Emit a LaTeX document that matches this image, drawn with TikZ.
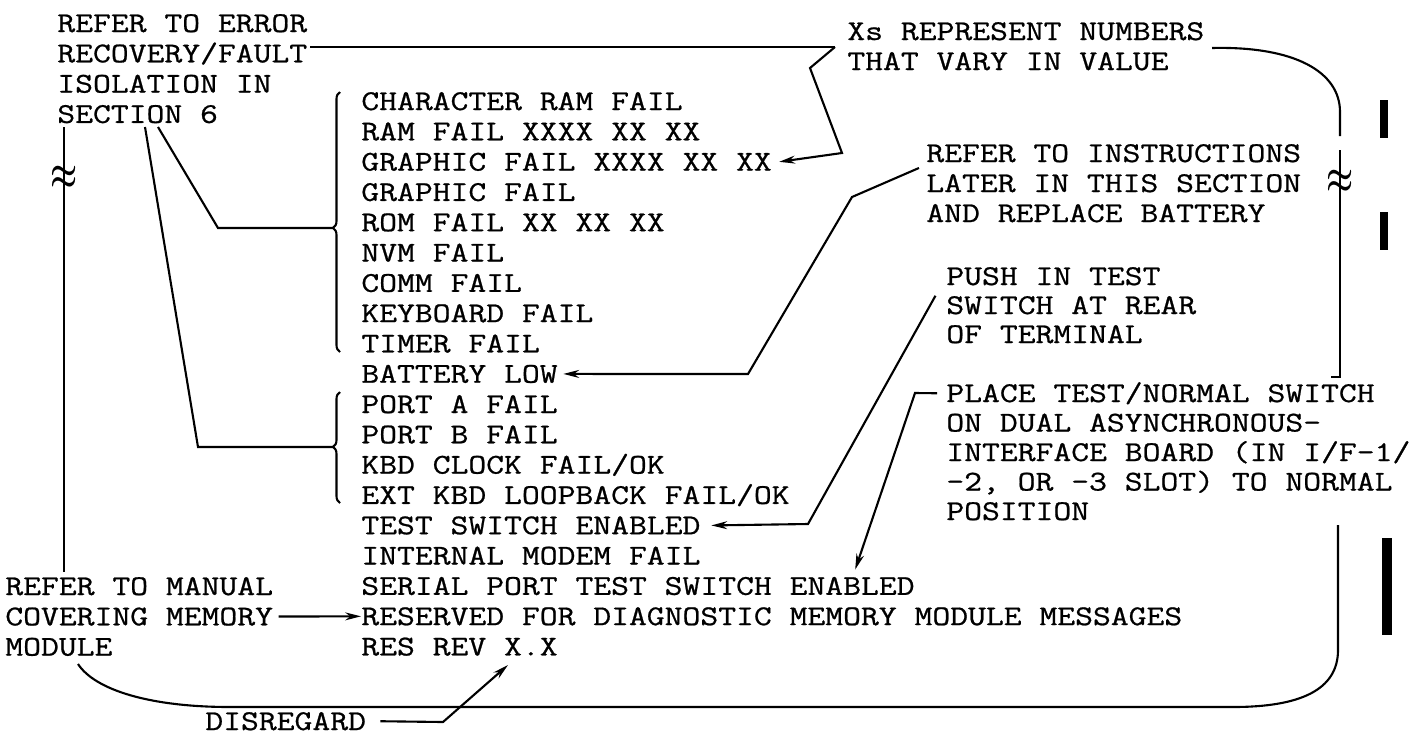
\documentclass[tikz,border=0pt]{standalone}
\usepackage{fontspec}
\setmonofont{Latin Modern Mono}[FakeStretch=1.21, FakeBold=0.8]
\usetikzlibrary{arrows.meta, decorations.pathreplacing}

\tikzset{
  txt/.style={anchor=base west, inner sep=0pt, font=\ttfamily\fontsize{16.3pt}{16.3pt}\selectfont},
  frame/.style={line width=1.2pt},
  arr/.style={line width=1.2pt, -{Stealth[length=9pt,width=4.5pt]}},
  brc/.style={line width=1.2pt, decorate, decoration={brace, amplitude=1.4mm, #1}},
  brk/.style={inner sep=0pt, font=\fontsize{18pt}{18pt}\selectfont\boldmath, yscale=1.4},
}

\begin{document}
\begin{tikzpicture}[x=0.02cm, y=-0.02cm]
\useasboundingbox (0,0) rectangle (1419,738);

% screen messages
\foreach \msg [count=\i] in {CHARACTER RAM FAIL, RAM FAIL XXXX XX XX, GRAPHIC FAIL XXXX XX XX,
    GRAPHIC FAIL, ROM FAIL XX XX XX, NVM FAIL, COMM FAIL, KEYBOARD FAIL, TIMER FAIL,
    BATTERY LOW, PORT A FAIL, PORT B FAIL, KBD CLOCK FAIL/OK, EXT KBD LOOPBACK FAIL/OK,
    TEST SWITCH ENABLED, INTERNAL MODEM FAIL, SERIAL PORT TEST SWITCH ENABLED,
    RESERVED FOR DIAGNOSTIC MEMORY MODULE MESSAGES, RES REV X.X}
  \node[txt] (m\i) at (361, {110+30.3*(\i-1)}) {\msg};

% notes
\foreach \ln [count=\i] in {REFER TO ERROR, RECOVERY/FAULT, ISOLATION IN, SECTION 6}
  \node[txt] (err\i) at (57, {32+30.3*(\i-1)}) {\ln};
\foreach \ln [count=\i] in {Xs REPRESENT NUMBERS, THAT VARY IN VALUE}
  \node[txt] (xs\i) at (847, {40+30*(\i-1)}) {\ln};
\foreach \ln [count=\i] in {REFER TO INSTRUCTIONS, LATER IN THIS SECTION, AND REPLACE BATTERY}
  \node[txt] (bat\i) at (926, {162+30*(\i-1)}) {\ln};
\foreach \ln [count=\i] in {PUSH IN TEST, SWITCH AT REAR, OF TERMINAL}
  \node[txt] (push\i) at (946, {285+29*(\i-1)}) {\ln};
\foreach \ln [count=\i] in {PLACE TEST/NORMAL SWITCH, ON DUAL ASYNCHRONOUS-,
    INTERFACE BOARD (IN I/F-1/, {-2, OR -3 SLOT) TO NORMAL}, POSITION}
  \node[txt] (place\i) at (946, {402+29.5*(\i-1)}) {\ln};
\foreach \ln [count=\i] in {REFER TO MANUAL, COVERING MEMORY, MODULE}
  \node[txt] (mem\i) at (5, {595+30.3*(\i-1)}) {\ln};
\node[txt] (dis) at (205,730) {DISREGARD};

% screen outline
\coordinate (xsfoot) at (835,47);
\draw[frame] (310,47) -- (xsfoot);
\draw[frame] (1212,48) .. controls (1295,46) and (1340,72) .. (1340,112) -- (1340,136);
\draw[frame] (1340,150) -- (1340,377) -- (1331,377);
\draw[frame] (1338,525) -- (1338,650) .. controls (1338,690) and (1300,707) .. (1233,707)
  -- (230,707) .. controls (150,707) and (95,690) .. (78,664);
\draw[frame] (64,127) -- (64,572);
\node[brk] (brkL) at (64,178) {$\approx$};
\node[brk] (brkR) at (1340,182) {$\approx$};

% braces
\draw[brc={aspect=0.477}] (340,352) -- (340,92);
\draw[brc={aspect=0.505}] (340,503) -- (340,392);
\coordinate (tipA) at (333,228);
\coordinate (tipB) at (333,447);
\draw[frame] (158,127) -- (218,228) -- (tipA);
\draw[frame] (145,127) -- (198,447) -- (tipB);

% leaders
\draw[arr] (xsfoot) -- (810,68) -- (842,153) -- ([xshift=4pt]m3.east);
\draw[arr] ([xshift=-4pt,yshift=-3pt]bat1.south west) -- (852,197) -- (748,374)
  -- ([xshift=3pt]m10.east);
\draw[arr] ([xshift=-6pt]push2.north west) -- (808,524) -- ([xshift=6pt]m15.east);
\draw[arr] ([xshift=-5pt]place1.west) -- (915,393) -- ([xshift=-34pt,yshift=4pt]m17.north east);
\draw[arr, shorten <=3pt] (mem2.east) -- (m18.west);
\draw[arr] ([xshift=8pt]dis.east) -- (443,722) -- (508,665);

% change bars
\fill (1380,100) rectangle (1388,138);
\fill (1380,212) rectangle (1388,250);
\fill (1382,538) rectangle (1392,635);
\end{tikzpicture}
\end{document}
